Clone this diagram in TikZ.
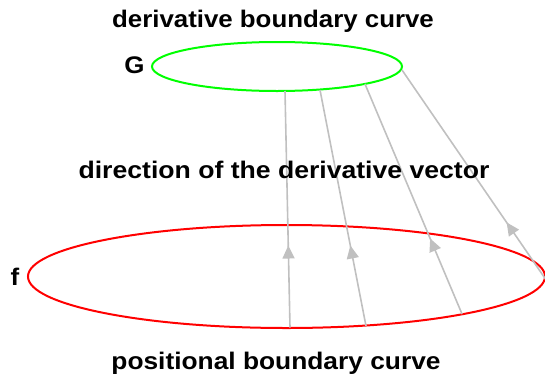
\documentclass[tikz,border=0pt]{standalone}
\usepackage{fontspec}
\setmainfont{Liberation Sans}
\usetikzlibrary{arrows.meta,decorations.markings}
\definecolor{vecgray}{HTML}{C0C0C0}
\definecolor{curvegreen}{HTML}{00FF00}
\definecolor{curvered}{HTML}{FF0000}
\tikzset{
  lbl/.style={font=\bfseries\fontsize{24}{27}\selectfont, inner sep=0pt, anchor=base},
  curve/.style={line width=2pt},
  vec/.style={draw=vecgray, line width=1.6pt,
    postaction={decorate},
    decoration={markings, mark=at position 82pt with {\arrow[vecgray]{Triangle[length=13pt,width=12pt]}}}},
}
\begin{document}
\begin{tikzpicture}[x=1pt,y=-1pt]
\useasboundingbox (0,0) rectangle (545,383);
\clip (0,0) rectangle (545,383);
% curves
\draw[curve, curvegreen] (277,66.5) ellipse [x radius=125, y radius=24.5];
\draw[curve, curvered] (286.5,276.5) ellipse [x radius=258.5, y radius=51.5];
% endpoints
\coordinate (b1) at (290,327.5);
\coordinate (t1) at (285,91);
\coordinate (b2) at (366,326);
\coordinate (t2) at (320,90);
\coordinate (b3) at (462,314);
\coordinate (t3) at (365,84);
\coordinate (b4) at (553,290);
\coordinate (t4) at (402,70);
\draw[vec] (b1) -- (t1);
\draw[vec] (b2) -- (t2);
\draw[vec] (b3) -- (t3);
\draw[vec] (b4) -- (t4);
% labels
\node[lbl, xscale=1.077] (dtitle) at (273,27) {derivative boundary curve};
\node[lbl, xscale=1.08] (G) at (134.5,73) {G};
\node[lbl, xscale=1.108] (dir) at (284,178) {direction of the derivative vector};
\node[lbl, xscale=1.08] (f) at (15,285) {f};
\node[lbl, xscale=1.097] (ptitle) at (276,369) {positional boundary curve};
\end{tikzpicture}
\end{document}
